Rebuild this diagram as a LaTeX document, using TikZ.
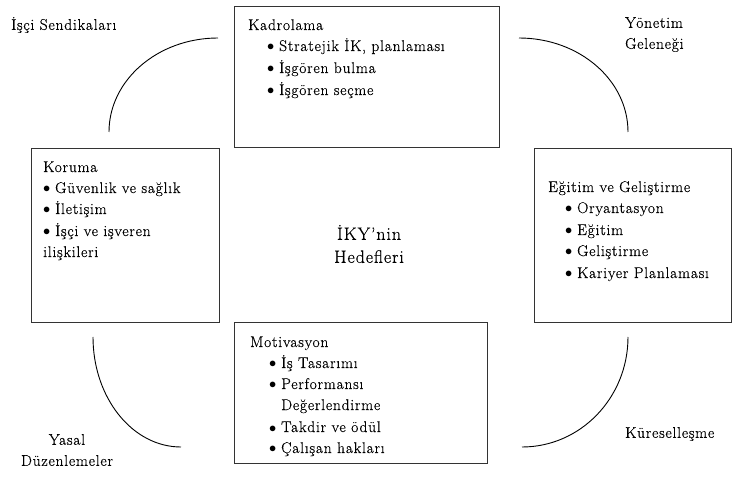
\documentclass[tikz,border=0pt]{standalone}
\usepackage{fontspec}
\setmainfont{Latin Modern Roman}[LetterSpace=5, FakeBold=0.4]
\begin{document}
\begin{tikzpicture}[x=1pt,y=1pt,
  panel/.style={draw=black!80, line width=1.3pt, rectangle, inner sep=0pt, anchor=north west},
  body/.style={anchor=base west, inner sep=0pt, font=\fontsize{15.5}{21}\selectfont},
  tag/.style={inner sep=0pt, font=\fontsize{15.5}{21}\selectfont, align=center},
  curveline/.style={draw=black, line width=0.9pt}]
\useasboundingbox (0,0) rectangle (732,-481);
\newcommand{\bul}{\makebox[12pt][l]{$\bullet$}}

% panels
\node[panel, minimum width=265pt, minimum height=141pt] (kadro) at (234,-6) {};
\node[panel, minimum width=188pt, minimum height=174pt] (koruma) at (31,-148) {};
\node[panel, minimum width=197pt, minimum height=174pt] (egitim) at (534,-148) {};
\node[panel, minimum width=253pt, minimum height=141pt] (motiv) at (234,-322) {};

% Kadrolama
\node[body] (k0) at (248,-30) {Kadrolama};
\node[body] (k1) at (267,-51) {\bul Stratejik İK, planlaması};
\node[body] (k2) at (267,-73) {\bul İşgören bulma};
\node[body] (k3) at (267,-95) {\bul İşgören seçme};

% Koruma
\node[body] (r0) at (43,-172) {Koruma};
\node[body] (r1) at (43,-193) {\bul Güvenlik ve sağlık};
\node[body] (r2) at (43,-214) {\bul İletişim};
\node[body] (r3) at (43,-236) {\bul İşçi ve işveren};
\node[body] (r4) at (43,-257) {ilişkileri};

% Eğitim ve Geliştirme
\node[body] (e0) at (548,-192) {Eğitim ve Geliştirme};
\node[body] (e1) at (565,-213) {\bul Oryantasyon};
\node[body] (e2) at (565,-235) {\bul Eğitim};
\node[body] (e3) at (565,-256) {\bul Geliştirme};
\node[body] (e4) at (565,-278) {\bul Kariyer Planlaması};

% Motivasyon
\node[body] (m0) at (250,-347) {Motivasyon};
\node[body] (m1) at (269,-368) {\bul İş Tasarımı};
\node[body] (m2) at (269,-389) {\bul Performansı};
\node[body] (m3) at (281,-410) {Değerlendirme};
\node[body] (m4) at (269,-432) {\bul Takdir ve ödül};
\node[body] (m5) at (269,-453) {\bul Çalışan hakları};

% centre
\node[tag, font=\fontsize{18}{23}\selectfont] (hedef) at (369,-244) {İKY'nin\\Hedefleri};

% surrounding factors
\node[tag, anchor=west] (sendika) at (11,-25) {İşçi Sendikaları};
\node[tag, anchor=north west, align=left] (yonetim) at (625,-17) {Yönetim\\Geleneği};
\node[tag] (yasal) at (67,-450) {Yasal\\Düzenlemeler};
\node[tag, anchor=west] (kuresel) at (625,-434) {Küreselleşme};

% arcs between panels
\coordinate (a1) at (109,-132);
\coordinate (a2) at (519,-38);
\coordinate (a3) at (93,-337);
\coordinate (a4) at (522,-447);
\draw[curveline] (a1) arc[start angle=180, end angle=90, x radius=109, y radius=94];
\draw[curveline] (a2) arc[start angle=90, end angle=0, x radius=109, y radius=94];
\draw[curveline] (a3) arc[start angle=180, end angle=270, x radius=88, y radius=110];
\draw[curveline] (a4) arc[start angle=270, end angle=360, x radius=106, y radius=110];
\end{tikzpicture}
\end{document}
